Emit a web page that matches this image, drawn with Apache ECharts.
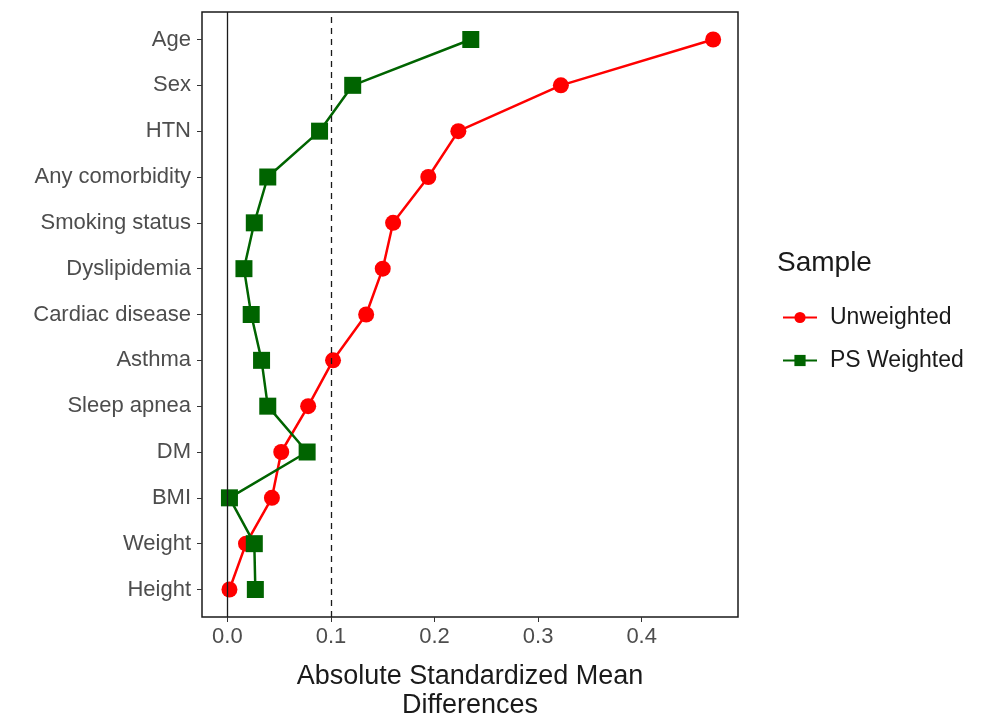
<!DOCTYPE html>
<html><head><meta charset="utf-8">
<script src="https://cdn.jsdelivr.net/npm/echarts@6/dist/echarts.min.js"></script>
<style>html,body{margin:0;padding:0;background:#fff}#c{width:987px;height:716px}</style>
</head><body><div id="c"></div>
<script>
// categories from bottom (1) to top (13)
const categories = ["Height","Weight","BMI","DM","Sleep apnea","Asthma","Cardiac disease","Dyslipidemia","Smoking status","Any comorbidity","HTN","Sex","Age"];
const unweighted = [0.002,0.018,0.043,0.052,0.078,0.102,0.134,0.150,0.160,0.194,0.223,0.322,0.469];
const psWeighted = [0.027,0.026,0.002,0.077,0.039,0.033,0.023,0.016,0.026,0.039,0.089,0.121,0.235];
const xTicks = [0,0.1,0.2,0.3,0.4];
const seriesNames = ["Unweighted","PS Weighted"];

const yIdx = categories.map((c,i)=>i+1);
const font = "Liberation Sans, Arial, sans-serif";
const chart = echarts.init(document.getElementById('c'));
chart.setOption({
  animation:false,
  title:{text:"Sample",left:777,top:249,padding:0,textStyle:{fontFamily:font,fontSize:28,fontWeight:'normal',color:'#1a1a1a'}},
  legend:{
    orient:'vertical',left:782,top:306,itemGap:20,itemWidth:34,itemHeight:14,padding:0,
    data:seriesNames,
    textStyle:{fontFamily:font,fontSize:23,color:'#1a1a1a',padding:[0,0,0,8]}
  },
  grid:{left:202,right:249,top:12,bottom:99,show:true,borderColor:'#1a1a1a',borderWidth:1.5,containLabel:false,outerBoundsMode:'none'},
  xAxis:{type:'value',min:-0.0245,max:0.493,
    name:"Absolute Standardized Mean\nDifferences",nameLocation:'middle',nameGap:45,
    nameTextStyle:{fontFamily:font,fontSize:27,color:'#1a1a1a',lineHeight:29},
    axisLine:{show:false,onZero:false},splitLine:{show:false},
    axisTick:{show:true,length:5,lineStyle:{color:'#333'},customValues:xTicks},
    axisLabel:{customValues:xTicks,fontFamily:font,fontSize:22,color:'#4d4d4d',margin:9,formatter:v=>v.toFixed(1)}
  },
  yAxis:{type:'value',min:0.4,max:13.6,
    axisLine:{show:false,onZero:false},splitLine:{show:false},
    axisTick:{show:true,length:5,lineStyle:{color:'#333'},customValues:yIdx},
    axisLabel:{customValues:yIdx,fontFamily:font,fontSize:22,color:'#4d4d4d',margin:11,formatter:v=>categories[Math.round(v)-1]||''}
  },
  series:[
    {name:seriesNames[0],type:'line',data:unweighted.map((v,i)=>[v,i+1]),
      symbol:'circle',symbolSize:16,lineStyle:{color:'#ff0000',width:2.5},itemStyle:{color:'#ff0000'},z:3,
      markLine:{silent:true,symbol:'none',label:{show:false},
        data:[{xAxis:0,lineStyle:{color:'#1a1a1a',type:'solid',width:1.3}},{xAxis:0.1,lineStyle:{color:'#1a1a1a',type:[6,5],width:1.3}}]}
    },
    {name:seriesNames[1],type:'line',data:psWeighted.map((v,i)=>[v,i+1]),
      symbol:'rect',symbolSize:17,lineStyle:{color:'#006400',width:2.5},itemStyle:{color:'#006400'},z:4}
  ]
});
</script></body></html>
